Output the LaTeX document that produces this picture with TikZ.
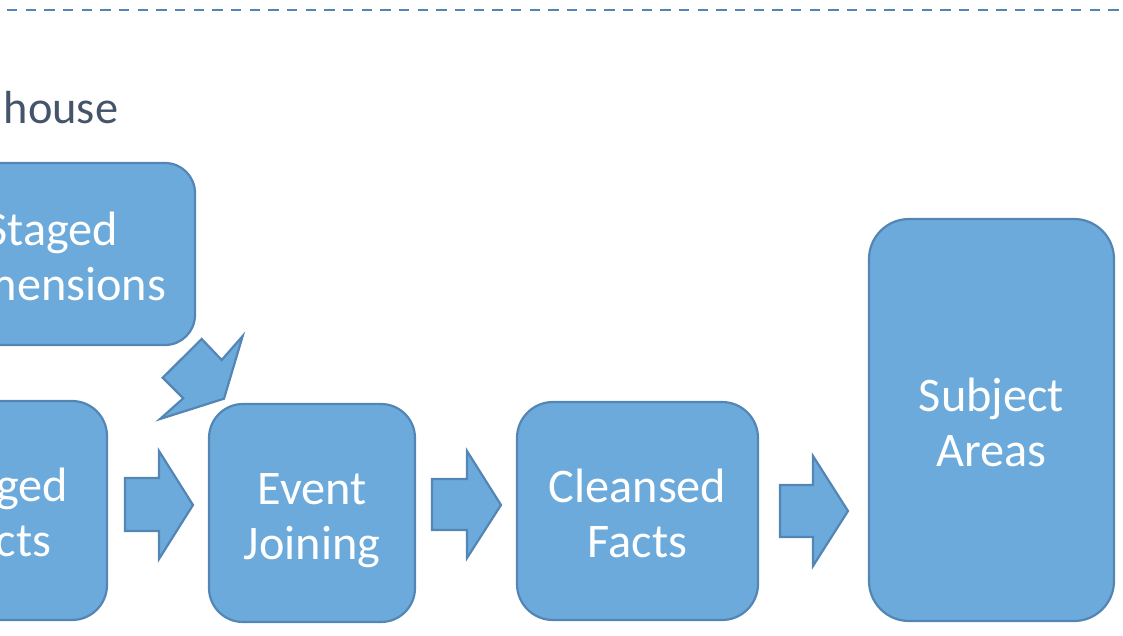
\documentclass[tikz,border=0pt]{standalone}
\usepackage{fontspec}
\setmainfont{Carlito}
\definecolor{boxfill}{HTML}{6BAADB}
\definecolor{boxline}{HTML}{5386B4}
\definecolor{titlecol}{HTML}{44546A}
\newcommand\mytopstrut{\rule{0pt}{36.75pt}}
\newcommand\mybotstrut{\rule[-9pt]{0pt}{9pt}}
\tikzset{
  stage/.style={draw=boxline, fill=boxfill, line width=1.65pt, text=white,
    align=center, inner sep=0pt, font=\fontsize{36.2}{41.25}\selectfont},
  blockarrow/.style={draw=boxline, fill=boxfill, line width=1.65pt, line join=miter},
}
\begin{document}
\begin{tikzpicture}[x=0.75pt,y=-0.75pt]
\useasboundingbox (0,0) rectangle (1123,635);
\clip (0,0) rectangle (1123,635);
\draw[boxline, line width=2.1pt, dash pattern=on 7.8pt off 6.2pt] (7,10) -- (1123,10);
\node[anchor=base west, inner sep=0pt, text=titlecol, font=\fontsize{34.8}{41}\selectfont] (title) at (3.5,123) {house};
\node[stage, rounded corners=22.5pt, minimum width=214.5pt, minimum height=136.5pt] (sdim) at (52,254) {\mytopstrut Staged\\Dimensions\mybotstrut};
\node[stage, rounded corners=26.25pt, minimum width=158.25pt, minimum height=164.25pt] (sfact) at (1.5,510.5) {\mytopstrut Staged\\Facts\mybotstrut};
\node[stage, rounded corners=25.5pt, minimum width=154.5pt, minimum height=163.5pt] (ej) at (312,513) {\mytopstrut Event\\Joining\mybotstrut};
\node[stage, rounded corners=27pt, minimum width=180.75pt, minimum height=163.5pt] (cf) at (637.5,511) {\mytopstrut Cleansed\\Facts\mybotstrut};
\node[stage, rounded corners=30pt, minimum width=183.75pt, minimum height=301.5pt] (sa) at (991.5,420) {\mytopstrut Subject\\Areas\mybotstrut};
\draw[blockarrow] (125,478) -- (159,478) -- (159,451) -- (193,505) -- (159,559) -- (159,531) -- (125,531) -- cycle;
\draw[blockarrow] (432,479) -- (467,479) -- (467,451) -- (501,505) -- (467,558) -- (467,530) -- (432,530) -- cycle;
\draw[blockarrow] (780,485) -- (813,485) -- (813,456) -- (848,511) -- (813,566) -- (813,537) -- (780,537) -- cycle;
\draw[blockarrow] (224,398.7) -- (242.7,336) -- (221.7,360) -- (201.7,339) -- (162.7,377.7) -- (183.3,398.3) -- (160,419) -- cycle;
\end{tikzpicture}
\end{document}
